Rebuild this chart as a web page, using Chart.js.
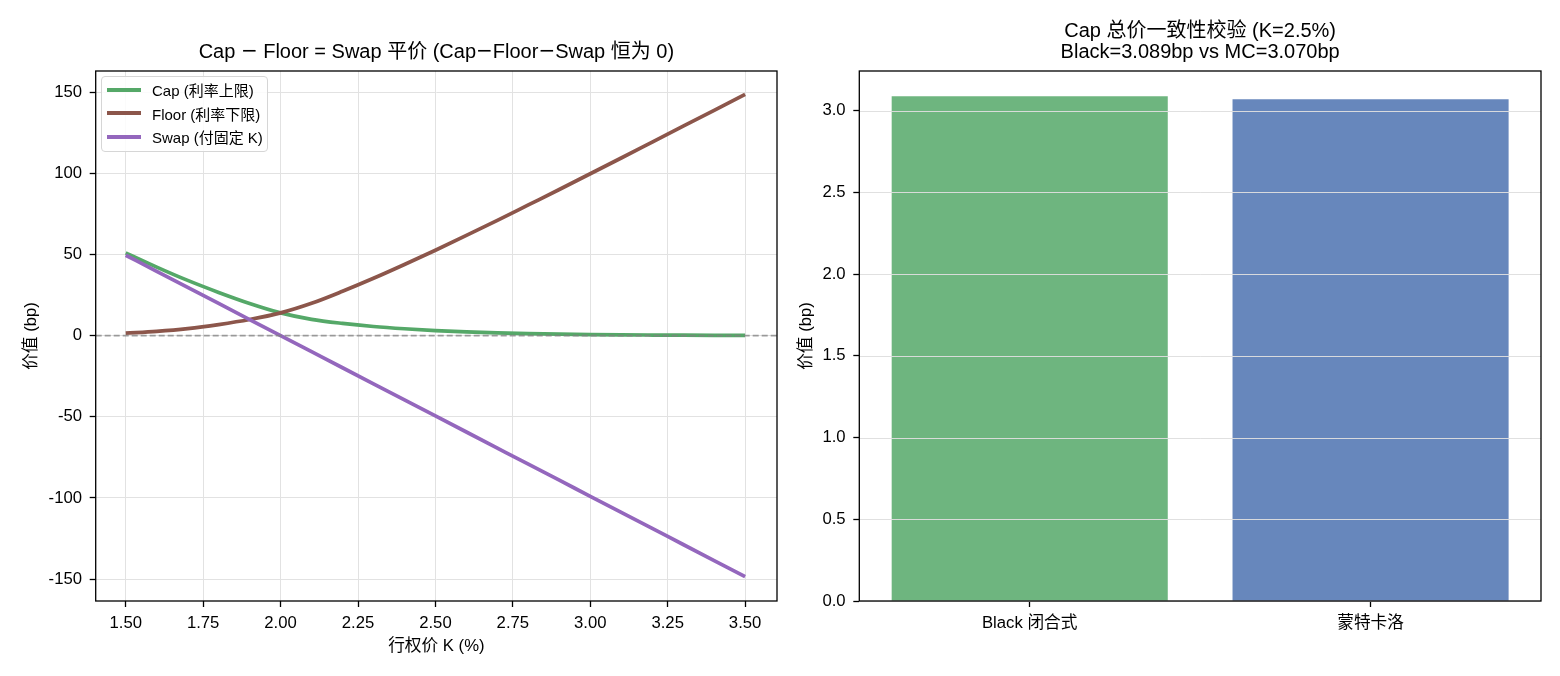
<!DOCTYPE html>
<html>
<head>
<meta charset="utf-8">
<script src="https://cdn.jsdelivr.net/npm/chart.js@4.4.1/dist/chart.umd.min.js"></script>
<style>
  html, body { margin: 0; padding: 0; background: #fff; }
  #wrap { position: relative; width: 1560px; height: 676px; overflow: hidden; }
  .box { position: absolute; top: 0; width: 780px; height: 676px; }
  #left { left: 0; }
  #right { left: 780px; }
  #legend {
    position: absolute; left: 101px; top: 76px; width: 167px; height: 76px;
    box-sizing: border-box; border: 1px solid #d6d6d6; border-radius: 4px;
    background: rgba(255,255,255,0.85); padding-top: 1px;
    font: 15px 'Liberation Sans', 'Noto Sans CJK SC', sans-serif; color: #000;
  }
  #legend .row { display: flex; align-items: center; height: 23.5px; }
  #legend .sw { display: inline-block; width: 34px; height: 3.6px; margin-left: 5px; margin-right: 11px; }
</style>
</head>
<body>
<div id="wrap">
  <div class="box" id="left"><canvas id="parity" width="780" height="676"></canvas></div>
  <div class="box" id="right"><canvas id="check" width="780" height="676"></canvas></div>
  <div id="legend"></div>
</div>
<script>
// strike grid (%), values in bp
var strikes  = [1.5, 1.6, 1.7, 1.8, 1.9, 2.0, 2.1, 2.2, 2.3, 2.4, 2.5, 2.6, 2.7, 2.8, 2.9, 3.0, 3.1, 3.2, 3.3, 3.4, 3.5];
var capBp    = [51.0, 42.2, 34.0, 26.6, 19.8, 14.0, 10.0, 7.5, 5.6, 4.2, 3.1, 2.3, 1.7, 1.25, 0.9, 0.65, 0.48, 0.35, 0.25, 0.18, 0.13];
var floorBp  = [1.5, 2.6, 4.3, 6.8, 9.9, 14.0, 19.9, 27.3, 35.3, 43.8, 52.6, 61.7, 71.0, 80.5, 90.0, 99.7, 109.4, 119.2, 129.0, 138.8, 148.6];
var swapBp   = [49.5, 39.6, 29.7, 19.8, 9.9, 0.0, -9.9, -19.8, -29.7, -39.6, -49.5, -59.4, -69.3, -79.2, -89.1, -99.0, -108.9, -118.8, -128.7, -138.6, -148.5];
var seriesNames = ["Cap (利率上限)", "Floor (利率下限)", "Swap (付固定 K)"];
var kTicks   = [1.5, 1.75, 2.0, 2.25, 2.5, 2.75, 3.0, 3.25, 3.5];
var yTicksL  = [-150, -100, -50, 0, 50, 100, 150];

var methods   = ["Black 闭合式", "蒙特卡洛"];
var capTotals = [3.089, 3.070];
var yTicksR   = [0, 0.5, 1.0, 1.5, 2.0, 2.5, 3.0];

var FONT = "'Liberation Sans', 'Noto Sans CJK SC', sans-serif";
Chart.defaults.font.family = FONT;
Chart.defaults.color = "#000";

function pts(ys) {
    return strikes.map((k, i) => ({x: k, y: ys[i]}));
}

// draw a title line, minus signs taken from DejaVu like the original
function titleLine(ctx, text, cx, cy) {
    var parts = text.split("−");
    var fMain = "20px " + FONT, fMinus = "20px 'DejaVu Sans'";
    var w = 0;
    parts.forEach((p, i) => {
        ctx.font = fMain; w += ctx.measureText(p).width;
        if (i < parts.length - 1) { ctx.font = fMinus; w += ctx.measureText("−").width; }
    });
    var x = cx - w / 2;
    ctx.textAlign = "left";
    parts.forEach((p, i) => {
        ctx.font = fMain; ctx.fillText(p, x, cy); x += ctx.measureText(p).width;
        if (i < parts.length - 1) {
            ctx.font = fMinus; ctx.fillText("−", x, cy); x += ctx.measureText("−").width;
        }
    });
}

// frame, reference line, grid over bars and axes titles
var decor = {
    id: "decor",
    afterDatasetsDraw(chart, args, opts) {
        var ctx = chart.ctx, a = chart.chartArea;
        ctx.save();
        if (opts.zeroLine) {
            var y0 = chart.scales.y.getPixelForValue(0);
            ctx.strokeStyle = "rgba(128,128,128,0.75)";
            ctx.lineWidth = 1.7;
            ctx.setLineDash([6, 3]);
            ctx.beginPath(); ctx.moveTo(a.left, y0); ctx.lineTo(a.right, y0); ctx.stroke();
            ctx.setLineDash([]);
        }
        if (opts.gridOver) {
            ctx.strokeStyle = "rgba(222,222,222,0.95)";
            ctx.lineWidth = 1;
            chart.scales.y.ticks.forEach(t => {
                var y = Math.round(chart.scales.y.getPixelForValue(t.value)) + 0.5;
                ctx.beginPath(); ctx.moveTo(a.left, y); ctx.lineTo(a.right, y); ctx.stroke();
            });
        }
        ctx.strokeStyle = "#000";
        ctx.lineWidth = 1.3;
        ctx.strokeRect(a.left, a.top, a.right - a.left, a.bottom - a.top);
        ctx.restore();
    },
    afterDraw(chart, args, opts) {
        var ctx = chart.ctx, a = chart.chartArea;
        ctx.save();
        ctx.fillStyle = "#000";
        ctx.textBaseline = "middle";
        opts.title.forEach((t, i) => titleLine(ctx, t, (a.left + a.right) / 2, opts.titleY[i]));
        ctx.restore();
    }
};

var tickFont = {size: 16.7};

var parity = new Chart(document.getElementById("parity"), {
    type: "line",
    data: {
        datasets: [
            {label: seriesNames[0], data: pts(capBp),   borderColor: "#55a868", order: 3},
            {label: seriesNames[1], data: pts(floorBp), borderColor: "#8c564b", order: 2},
            {label: seriesNames[2], data: pts(swapBp),  borderColor: "#9467bd", order: 1}
        ]
    },
    options: {
        responsive: false,
        animation: false,
        devicePixelRatio: 1,
        layout: {padding: {top: 71, left: 0, right: 3, bottom: 0}},
        elements: {
            line: {borderWidth: 3.7, cubicInterpolationMode: "monotone", fill: false},
            point: {radius: 0, hoverRadius: 0}
        },
        scales: {
            x: {
                type: "linear", min: 1.403, max: 3.603,
                afterBuildTicks: s => { s.ticks = kTicks.map(v => ({value: v})); },
                afterFit: s => { s.height = 75; },
                ticks: {font: tickFont, color: "#000", padding: 6, maxRotation: 0, autoSkip: false,
                        callback: v => v.toFixed(2)},
                grid: {color: "#e2e2e2", lineWidth: 1, tickColor: "#000", tickLength: 6, tickWidth: 1.3},
                border: {display: false},
                title: {display: true, text: "行权价 K (%)", font: tickFont, color: "#000",
                        padding: {top: 0, bottom: 20}}
            },
            y: {
                min: -163.5, max: 163,
                afterBuildTicks: s => { s.ticks = yTicksL.map(v => ({value: v})); },
                afterFit: s => { s.width = 95.7; },
                ticks: {font: tickFont, color: "#000", padding: 7.7, callback: v => String(v)},
                grid: {color: "#e2e2e2", lineWidth: 1, tickColor: "#000", tickLength: 6, tickWidth: 1.3},
                border: {display: false},
                title: {display: true, text: "价值 (bp)", font: tickFont, color: "#000",
                        padding: {top: 21.5, bottom: 0}}
            }
        },
        plugins: {
            legend: {display: false},
            tooltip: {enabled: false},
            decor: {zeroLine: true, title: ["Cap − Floor = Swap 平价 (Cap−Floor−Swap 恒为 0)"], titleY: [52]}
        }
    },
    plugins: [decor]
});

var check = new Chart(document.getElementById("check"), {
    type: "bar",
    data: {
        labels: methods,
        datasets: [{
            label: "Cap 总价",
            data: capTotals,
            backgroundColor: ["rgba(85,168,104,0.85)", "rgba(76,114,176,0.85)"],
            borderWidth: 0,
            barPercentage: 0.81,
            categoryPercentage: 1.0
        }]
    },
    options: {
        responsive: false,
        animation: false,
        devicePixelRatio: 1,
        layout: {padding: {top: 71, left: 0, right: 19, bottom: 0}},
        scales: {
            x: {
                afterFit: s => { s.height = 75; },
                ticks: {font: tickFont, color: "#000", padding: 6, maxRotation: 0},
                grid: {display: true, drawOnChartArea: false, offset: false, tickColor: "#000",
                       tickLength: 6, tickWidth: 1.3},
                border: {display: false}
            },
            y: {
                min: 0, max: 3.2435,
                afterBuildTicks: s => { s.ticks = yTicksR.map(v => ({value: v})); },
                afterFit: s => { s.width = 79.3; },
                ticks: {font: tickFont, color: "#000", padding: 7.7, callback: v => v.toFixed(1)},
                grid: {display: true, drawOnChartArea: false, tickColor: "#000", tickLength: 6, tickWidth: 1.3},
                border: {display: false},
                title: {display: true, text: "价值 (bp)", font: tickFont, color: "#000",
                        padding: {top: 16, bottom: 0}}
            }
        },
        plugins: {
            legend: {display: false},
            tooltip: {enabled: false},
            decor: {gridOver: true,
                    title: ["Cap 总价一致性校验 (K=2.5%)", "Black=3.089bp vs MC=3.070bp"],
                    titleY: [31, 52]}
        }
    },
    plugins: [decor]
});

// legend box inside the left axes
var lg = document.getElementById("legend");
parity.data.datasets.forEach(ds => {
    var row = document.createElement("div");
    row.className = "row";
    var sw = document.createElement("span");
    sw.className = "sw";
    sw.style.background = ds.borderColor;
    var tx = document.createElement("span");
    tx.textContent = ds.label;
    row.appendChild(sw);
    row.appendChild(tx);
    lg.appendChild(row);
});
</script>
</body>
</html>
